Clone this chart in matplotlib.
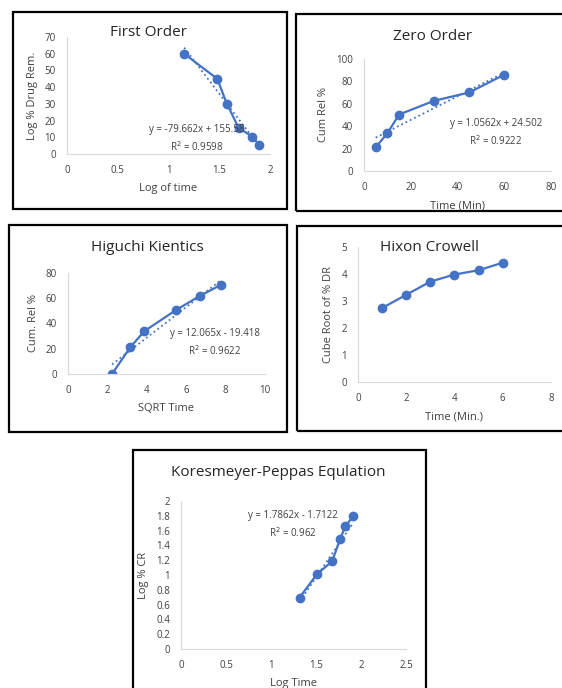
import matplotlib
matplotlib.use("Agg")
import matplotlib.pyplot as plt
from matplotlib.patches import Rectangle
import numpy as np

plt.rcParams['font.family'] = ['Open Sans', 'DejaVu Sans']

W, H = 562, 688
blue = '#4472C4'

# first order
fo_x = [1.154, 1.48, 1.574, 1.69, 1.826, 1.895]
fo_y = [60.0, 45.0, 30.2, 15.7, 10.3, 5.4]
# zero order
zo_x = [5, 10, 15, 30, 45, 60]
zo_y = [21.2, 33.7, 50.4, 62.7, 70.1, 86.0]
# higuchi
hg_x = [2.236, 3.162, 3.873, 5.477, 6.708, 7.746]
hg_y = [0.0, 21.2, 33.9, 50.6, 62.0, 70.5]
# hixon crowell
hc_x = [1, 2, 3, 4, 5, 6]
hc_y = [2.74, 3.23, 3.72, 3.98, 4.14, 4.42]
# korsmeyer-peppas
kp_x = [1.317, 1.509, 1.679, 1.768, 1.827, 1.916]
kp_y = [0.694, 1.009, 1.185, 1.486, 1.662, 1.797]

fig = plt.figure(figsize=(W / 100, H / 100), dpi=100)


def box(x0, y0, x1, y1):
    fig.add_artist(Rectangle((x0 / W, 1 - y1 / H), (x1 - x0) / W, (y1 - y0) / H,
                             transform=fig.transFigure, fill=False,
                             edgecolor='black', linewidth=1.6))


def panel(px, xs, ys, xlim, ylim, xticks, yticks, title, tpos, xlabel, ylabel,
          fit=None, eq=None, eqpos=None):
    x0, y0, x1, y1 = px
    ax = fig.add_axes([x0 / W, 1 - y1 / H, (x1 - x0) / W, (y1 - y0) / H])
    ax.plot(xs, ys, '-o', color=blue, lw=1.6, ms=6)
    if fit is not None:
        fx = np.array([xs[0], xs[-1]])
        ax.plot(fx, fit[0] * fx + fit[1], ':', color=blue, lw=1.3)
    ax.set_xlim(*xlim)
    ax.set_ylim(*ylim)
    ax.set_xticks(xticks)
    ax.set_yticks(yticks)
    ax.set_xticklabels([f'{t:g}' for t in xticks])
    ax.set_yticklabels([f'{t:g}' for t in yticks])
    ax.tick_params(length=0, labelsize=7, colors='#404040', pad=8)
    for s in ['top', 'right']:
        ax.spines[s].set_visible(False)
    for s in ['left', 'bottom']:
        ax.spines[s].set_color('#D9D9D9')
        ax.spines[s].set_linewidth(0.8)
    ax.set_xlabel(xlabel, fontsize=8, color='#404040', labelpad=5)
    ax.set_ylabel(ylabel, fontsize=8, color='#404040', labelpad=5)
    fig.text(tpos[0] / W, 1 - tpos[1] / H, title, fontsize=11, color='#262626',
             ha='center', va='center')
    if eq is not None:
        fig.text(eqpos[0] / W, 1 - eqpos[1] / H, eq, fontsize=7, color='#404040',
                 ha='center', va='center', linespacing=1.4)
    return ax


box(13, 12, 287, 209)
panel((67, 37, 270, 154), fo_x, fo_y, (0, 2), (0, 70), [0, 0.5, 1, 1.5, 2],
      range(0, 71, 10), 'First Order', (149, 32), 'Log of time', 'Log % Drug Rem.',
      fit=(-79.662, 155.58), eq='y = -79.662x + 155.58\nR$^2$ = 0.9598', eqpos=(197, 139))

box(296, 14, 570, 211)
panel((364, 59, 551, 171), zo_x, zo_y, (0, 80), (0, 100), [0, 20, 40, 60, 80],
      range(0, 101, 20), 'Zero Order', (433, 36), 'Time (Min)', 'Cum Rel %',
      fit=(1.0562, 24.502), eq='y = 1.0562x + 24.502\nR$^2$ = 0.9222', eqpos=(496, 133))

box(9, 225, 287, 432)
panel((68, 273, 265, 374), hg_x, hg_y, (0, 10), (0, 80), [0, 2, 4, 6, 8, 10],
      range(0, 81, 20), 'Higuchi Kientics', (147, 247), 'SQRT Time', 'Cum. Rel %',
      fit=(12.065, -19.418), eq='y = 12.065x - 19.418\nR$^2$ = 0.9622', eqpos=(215, 343))

box(297, 226, 570, 431)
panel((358, 247, 551, 382), hc_x, hc_y, (0, 8), (0, 5), [0, 2, 4, 6, 8],
      range(0, 6), 'Hixon Crowell', (430, 247), 'Time (Min.)', 'Cube Root of % DR')

box(133, 450, 426, 700)
panel((181, 501, 406, 649), kp_x, kp_y, (0, 2.5), (0, 2), [0, 0.5, 1, 1.5, 2, 2.5],
      np.round(np.arange(0, 2.01, 0.2), 1), 'Koresmeyer-Peppas Equlation', (278, 472),
      'Log Time', 'Log % CR',
      fit=(1.7862, -1.7122), eq='y = 1.7862x - 1.7122\nR$^2$ = 0.962', eqpos=(293, 525))

fig.savefig('out.png', dpi=100)
